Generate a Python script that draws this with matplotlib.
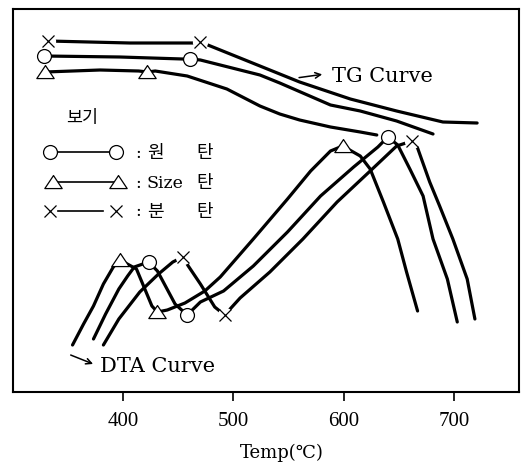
import matplotlib
matplotlib.use("Agg")
import matplotlib.pyplot as plt
from matplotlib.path import Path

# ============
# data (temp in degC, signal in arbitrary units)
# ============
# DTA curves
dta_size_t = [354, 364, 373, 382, 391, 397, 412, 426, 431, 440, 456, 474, 488, 518,
              549, 570, 588, 599, 615, 624, 636, 649, 657, 667]
dta_size_v = [47, 68, 86, 108, 125, 132, 123, 86, 80, 82, 89, 101, 115, 153,
              193, 221, 241, 246, 236, 223, 190, 153, 120, 81]
dta_size_mk = [5, 8, 17]

dta_won_t = [373, 384, 396, 404, 410, 423, 431, 447, 458, 470, 491, 518, 549, 579,
             609, 631, 640, 649, 660, 672, 681, 694, 703]
dta_won_v = [53, 78, 103, 116, 125, 130, 121, 88, 77, 90, 101, 126, 160, 196,
             225, 245, 255, 247, 223, 196, 153, 113, 70]
dta_won_mk = [5, 8, 16]

dta_bun_t = [382, 396, 415, 432, 445, 454, 459, 470, 483, 492, 506, 533, 563, 594,
             624, 648, 662, 667, 678, 687, 699, 712, 719]
dta_bun_v = [47, 73, 100, 118, 130, 135, 126, 108, 85, 77, 94, 120, 153, 190,
             221, 246, 251, 244, 210, 186, 153, 113, 73]
dta_bun_mk = [5, 9, 16]

# TG curves
tg_bun_t = [332, 406, 465, 470, 479, 524, 560, 606, 648, 690, 721]
tg_bun_v = [351, 349, 349, 350, 346, 326, 310, 293, 281, 270, 269]
tg_bun_mk = [0, 3]

tg_won_t = [328, 397, 454, 461, 470, 524, 542, 588, 615, 648, 681]
tg_won_v = [336, 335, 333, 333, 332, 317, 309, 287, 281, 271, 258]
tg_won_mk = [0, 3]

tg_size_t = [329, 379, 414, 422, 429, 458, 494, 524, 542, 560, 588, 615, 630]
tg_size_v = [320, 322, 321, 320, 321, 316, 303, 286, 278, 272, 265, 260, 257]
tg_size_mk = [0, 3]

xticks = [400, 500, 600, 700]

# ============
# plot
# ============
serif = ['DejaVu Serif', 'DejaVu Sans']
kr = ['Noto Sans CJK KR', 'DejaVu Sans']
tri = Path([(-1, -0.7), (1, -0.7), (0, 0.8), (-1, -0.7)],
           [Path.MOVETO, Path.LINETO, Path.LINETO, Path.CLOSEPOLY])

fig = plt.figure(figsize=(5.21, 4.64), dpi=100)
ax = fig.add_axes([13/521, 71/464, 506/521, 383/464])
ax.set_xlim(300, 759)
ax.set_ylim(0, 383)

lw = 2.3


def draw(t, v, mk, kind):
    ax.plot(t, v, color='k', lw=lw, solid_capstyle='round',
            solid_joinstyle='round', zorder=2)
    mt = [t[i] for i in mk]
    mv = [v[i] for i in mk]
    if kind == 'o':
        ax.plot(mt, mv, 'o', ms=10, mfc='w', mec='k', mew=0.9, zorder=4)
    elif kind == '^':
        ax.plot(mt, mv, marker=tri, ls='none', ms=12.5, mfc='w', mec='k', mew=0.9, zorder=4)
    else:
        ax.plot(mt, mv, 'o', ms=11, mfc='w', mec='none', zorder=3)
        ax.plot(mt, mv, 'x', ms=8, mec='k', mew=0.9, zorder=4)


draw(dta_size_t, dta_size_v, dta_size_mk, '^')
draw(dta_won_t, dta_won_v, dta_won_mk, 'o')
draw(dta_bun_t, dta_bun_v, dta_bun_mk, 'x')
draw(tg_bun_t, tg_bun_v, tg_bun_mk, 'x')
draw(tg_won_t, tg_won_v, tg_won_mk, 'o')
draw(tg_size_t, tg_size_v, tg_size_mk, '^')

# curve labels
ax.annotate('', xy=(583, 318), xytext=(557, 314),
            arrowprops=dict(arrowstyle='->', color='k', lw=1.1))
ax.text(589, 316, 'TG Curve', family=serif, fontsize=15, ha='left', va='center')
ax.annotate('', xy=(375, 27), xytext=(350, 38),
            arrowprops=dict(arrowstyle='->', color='k', lw=1.1))
ax.text(379, 26, 'DTA Curve', family=serif, fontsize=15, ha='left', va='center')

# hand-made legend
ax.text(363, 275, '보기', family=kr, fontsize=12.5, ha='center', va='center')
rows = [(240, 'o', '원'), (210, '^', 'Size'), (181, 'x', '분')]
for yy, kind, name in rows:
    if kind == 'o':
        ax.plot([334, 393], [yy, yy], color='k', lw=1.2, zorder=2)
        ax.plot([334, 393], [yy, yy], 'o', ms=10, mfc='w', mec='k', mew=0.9, zorder=4)
    elif kind == '^':
        ax.plot([336, 395], [yy, yy], color='k', lw=1.2, zorder=2)
        ax.plot([336, 395], [yy, yy], marker=tri, ls='none', ms=12.5, mfc='w', mec='k',
                mew=0.9, zorder=4)
    else:
        ax.plot([341, 382], [yy, yy], color='k', lw=1.2, zorder=2)
        ax.plot([334, 393], [yy, yy], 'x', ms=8, mec='k', mew=0.9, zorder=4)
    ax.text(413.6, yy, ':', family=serif, fontsize=12.5, ha='center', va='center')
    if name == 'Size':
        ax.text(421, yy, 'Size', family=serif, fontsize=12.5, ha='left', va='center')
    else:
        ax.text(429, yy, name, family=kr, fontsize=13, ha='center', va='center')
    ax.text(474, yy, '탄', family=kr, fontsize=13, ha='center', va='center')

# axes styling
for sp in ax.spines.values():
    sp.set_linewidth(1.5)
ax.set_yticks([])
ax.set_xticks(xticks)
ax.set_xticklabels([str(t) for t in xticks], family='Liberation Serif', fontsize=15)
ax.tick_params(axis='x', direction='out', length=6.5, width=1.2, pad=7)
fig.text(282/521, 1 - 453/464, 'Temp(℃)', family=serif, fontsize=13,
         ha='center', va='center')

fig.savefig('out.png', dpi=100)
